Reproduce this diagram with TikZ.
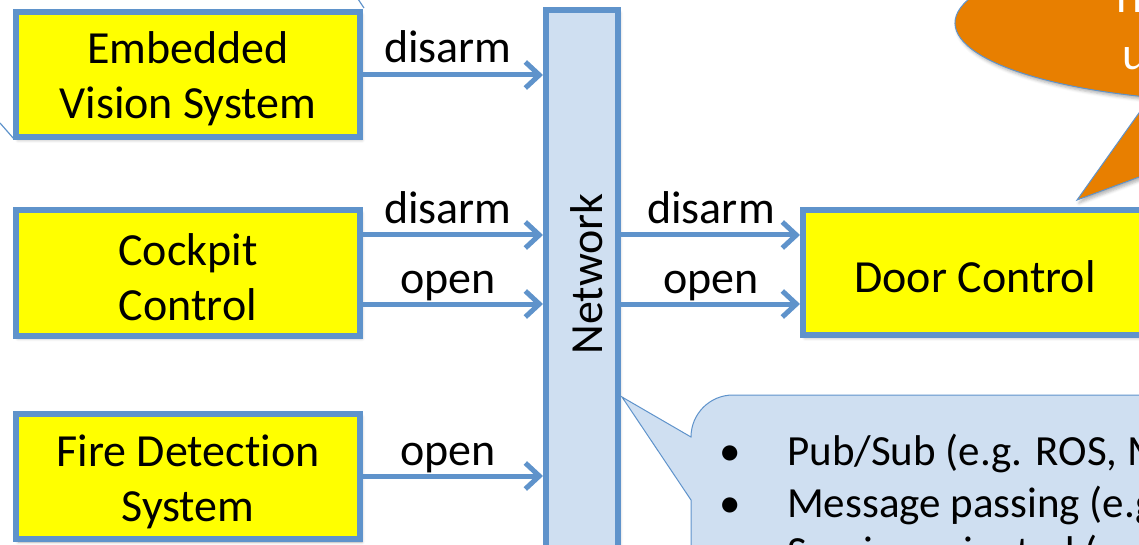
\documentclass[tikz,border=0pt]{standalone}
\usepackage{fontspec}
\setmainfont{Carlito}[Ligatures=NoCommon]
\usetikzlibrary{arrows.meta,shadows.blur}
\definecolor{lineblue}{RGB}{95,147,203}
\definecolor{boxyellow}{RGB}{255,255,0}
\definecolor{netfill}{RGB}{207,223,241}
\definecolor{calloutorange}{RGB}{232,127,0}
\begin{document}
\begin{tikzpicture}[x=1pt,y=1pt,
  shadowed/.style={blur shadow={shadow xshift=2pt, shadow yshift=-3pt, shadow blur radius=3pt, shadow opacity=30}},
  sysbox/.style={draw=lineblue, line width=6pt, fill=boxyellow, minimum width=344pt, minimum height=125pt,
    inner sep=0pt, shadowed},
  boxtext/.style={align=center, inner sep=0pt, font=\fontsize{46}{55}\selectfont},
  netbox/.style={draw=lineblue, line width=6pt, fill=netfill, minimum width=72pt, minimum height=584pt,
    inner sep=0pt, shadowed},
  arr/.style={draw=lineblue, line width=5pt, -{Straight Barb[length=14pt, width=26pt]}},
  lbl/.style={font=\fontsize{46}{55}\selectfont, anchor=base, inner sep=0pt},
  bulletlbl/.style={font=\fontsize{43}{52}\selectfont, anchor=base west, inner sep=0pt},
  thinline/.style={draw=lineblue, line width=1.2pt},
  whitetext/.style={font=\fontsize{46}{55}\selectfont, text=white, anchor=base west, inner sep=0pt}
]
\useasboundingbox (0,0) rectangle (1139,544);
\clip (0,0) rectangle (1139,544);

% fragments of a shape behind the vision box
\draw[thinline] (0,421) -- (14,405);
\draw[thinline] (358,545) -- (364,536);

% orange callout (partly visible)
\draw[draw=lineblue, line width=1pt, fill=calloutorange, shadowed]
  (1077,344) -- (1150.1,446.7) arc[start angle=250.2, end angle=-69, x radius=295, y radius=79] -- cycle;
\node[whitetext] (ct1) at (1110,531) {Th};
\node[whitetext] (ct2) at (1122,474) {u};

% blue callout (partly visible)
\draw[draw=lineblue, line width=1pt, fill=netfill]
  (691,-60) -- (691,44) -- (622,147) -- (691,107)
  arc[start angle=180, end angle=90, radius=42] -- (1300,149) -- (1300,-60) -- cycle;
\node[bulletlbl] (b1) at (719,79) {•};
\node[bulletlbl] (t1) at (787,79) {Pub/Sub (e.g. ROS, MQTT)};
\node[bulletlbl] (b2) at (719,27) {•};
\node[bulletlbl] (t2) at (787,27) {Message passing (e.g. MPI)};
\node[bulletlbl] (b3) at (719,-22) {•};
\node[bulletlbl] (t3) at (787,-22) {Service-oriented (e.g. SOA)};

% boxes
\node[sysbox] (evs) at (188,469.5) {};
\node[sysbox] (cc)  at (188,271) {};
\node[sysbox] (fds) at (188,67.5) {};
\node[sysbox] (dc)  at (975,271.5) {};
\node[netbox] (net) at (582,241.75) {};
\node[boxtext] (evst) at ([yshift=-4pt]evs.center) {Embedded\\Vision System};
\node[boxtext] (cct)  at ([yshift=-4pt]cc.center) {Cockpit\\Control};
\node[boxtext] (fdst) at ([yshift=-5pt]fds.center) {Fire Detection\\System};
\node[boxtext] (dct)  at ([yshift=-4pt]dc.center) {Door Control};
\node[font=\fontsize{46}{55}\selectfont, rotate=90, inner sep=0pt] (netlbl) at (587,270) {Network};

% connectors
\draw[arr] (evs.east |- 0,469) -- (net.west |- 0,469);
\draw[arr] (cc.east |- 0,309) -- (net.west |- 0,309);
\draw[arr] (cc.east |- 0,240) -- (net.west |- 0,240);
\draw[arr] (fds.east |- 0,68) -- (net.west |- 0,68);
\draw[arr] (net.east |- 0,309) -- (dc.west |- 0,309);
\draw[arr] (net.east |- 0,240) -- (dc.west |- 0,240);

% connector labels
\node[lbl] (l1) at (448,481) {disarm};
\node[lbl] (l2) at (448,320) {disarm};
\node[lbl] (l3) at (448,251) {open};
\node[lbl] (l4) at (448,79) {open};
\node[lbl] (l5) at (711,320) {disarm};
\node[lbl] (l6) at (711,251) {open};
\end{tikzpicture}
\end{document}
